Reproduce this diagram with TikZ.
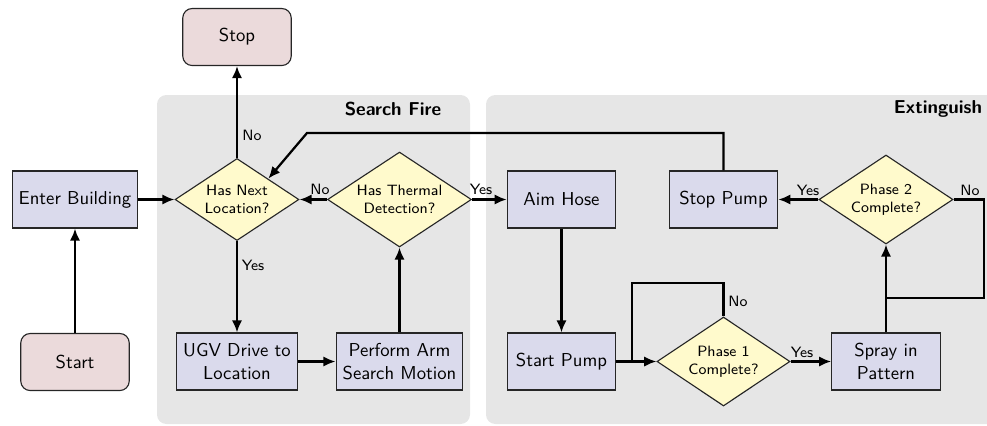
\documentclass[tikz,border=0pt]{standalone}
\usepackage{fontspec}
\renewcommand{\familydefault}{\sfdefault}
\usetikzlibrary{shapes.geometric,arrows.meta}
\definecolor{procfill}{RGB}{218,218,236}
\definecolor{termfill}{RGB}{235,218,219}
\definecolor{decfill}{RGB}{255,250,204}
\definecolor{regionfill}{RGB}{230,230,230}
\begin{document}
\begin{tikzpicture}[x=0.535pt,y=-0.535pt,
  proc/.style={draw=black!85, fill=procfill, minimum width=58pt, minimum height=30.5pt, align=center, inner sep=3.5pt, line width=0.6pt},
  term/.style={proc, fill=termfill, rounded corners=5pt},
  dec/.style={diamond, draw=black!85, fill=decfill, aspect=1.5, inner sep=0pt, align=center, font=\footnotesize, line width=0.6pt},
  conn/.style={line width=1.2pt, -{Latex[length=6.5pt,width=5.5pt]}},
  plain/.style={line width=1.2pt},
  lbl/.style={font=\footnotesize, inner sep=1pt},
  region/.style={fill=regionfill, rounded corners=5pt},
  ttl/.style={font=\bfseries, inner sep=0pt}]
\useasboundingbox (0,0) rectangle (987,425);
% regions
\fill[region] (157,95) rectangle (470,424);
\fill[region] (486,95) rectangle (1000,424);
\node[ttl] (t1) at (393,109) {Search Fire};
\node[ttl] (t2) at (938,109) {Extinguish};
% nodes
\node[term] (stop) at (237,37) {Stop};
\node[term] (start) at (75,362) {Start};
\node[proc] (enter) at (75,199.5) {Enter Building};
\node[dec, minimum width=66.3pt, minimum height=43.9pt] (next) at (237,199.5) {Has Next\\Location?};
\node[dec, minimum width=77pt, minimum height=50.8pt] (therm) at (399.5,199.5) {Has Thermal\\Detection?};
\node[proc] (ugv) at (237,361.5) {UGV Drive to\\Location};
\node[proc] (arm) at (399.5,361.5) {Perform Arm\\Search Motion};
\node[proc] (aim) at (561.5,199.5) {Aim Hose};
\node[proc] (spump) at (723.5,199.5) {Stop Pump};
\node[dec, minimum width=71.7pt, minimum height=47.6pt] (ph2) at (886,199.5) {Phase 2\\Complete?};
\node[proc] (stpump) at (561.5,361.5) {Start Pump};
\node[dec, minimum width=71.2pt, minimum height=47.6pt] (ph1) at (723.5,361.5) {Phase 1\\Complete?};
\node[proc] (spray) at (886,361.5) {Spray in\\Pattern};
% helper coordinates
\coordinate (b1) at (307,133);
\coordinate (l1) at (632,283);
\coordinate (l2) at (632,361.5);
\coordinate (r1) at (984,199.5);
\coordinate (r2) at (984,298);
\coordinate (r3) at (886,298);
% connectors
\draw[conn] (start) -- (enter);
\draw[conn] (enter) -- (next);
\draw[conn] (next) -- (stop);
\draw[conn] (next) -- (ugv);
\draw[conn] (ugv) -- (arm);
\draw[conn] (arm) -- (therm);
\draw[conn] (therm) -- (next);
\draw[conn] (therm) -- (aim);
\draw[conn] (aim) -- (stpump);
\draw[conn] (stpump) -- (ph1);
\draw[plain] (ph1.north) |- (l1) -- (l2);
\draw[conn] (ph1) -- (spray);
\draw[conn] (spray) -- (ph2);
\draw[plain] (ph2.east) -- (r1) -- (r2) -- (r3);
\draw[conn] (ph2) -- (spump);
\draw[conn] (spump.north) |- (b1) -- (next.north east);
% labels
\node[lbl] (n1) at (252,135) {No};
\node[lbl] (n2) at (253,265) {Yes};
\node[lbl] (n3) at (320,189) {No};
\node[lbl] (n4) at (481,189) {Yes};
\node[lbl] (n5) at (808,190) {Yes};
\node[lbl] (n6) at (970,190) {No};
\node[lbl] (n7) at (738,301) {No};
\node[lbl] (n8) at (802,352) {Yes};
\end{tikzpicture}
\end{document}
